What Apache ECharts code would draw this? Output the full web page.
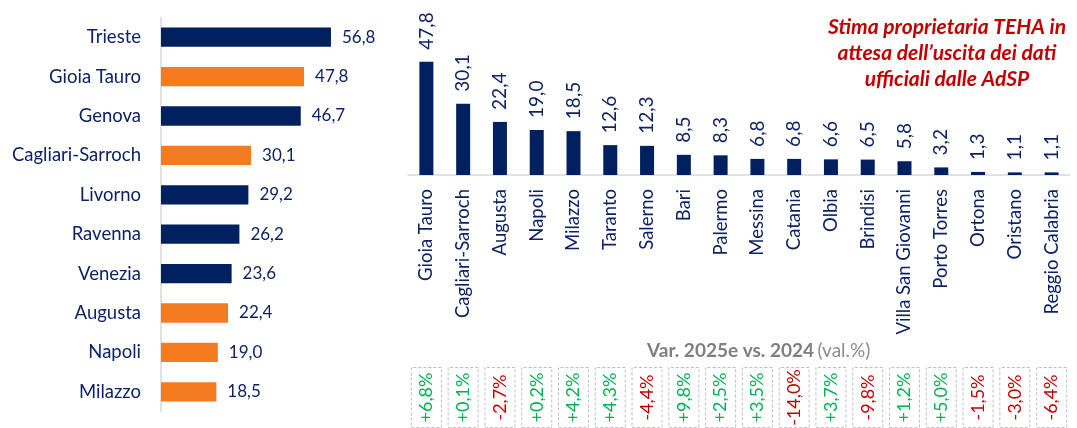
<!DOCTYPE html>
<html>
<head>
<meta charset="utf-8">
<script src="https://cdn.jsdelivr.net/npm/echarts@6/dist/echarts.min.js"></script>
<style>
  html, body { margin: 0; padding: 0; background: #fff; }
  #chart { width: 1077px; height: 428px; }
</style>
</head>
<body>
<div id="chart"></div>
<script>
// top 10 ports (left)
var topPorts = ["Trieste", "Gioia Tauro", "Genova", "Cagliari-Sarroch", "Livorno", "Ravenna", "Venezia", "Augusta", "Napoli", "Milazzo"];
var topValues = [56.8, 47.8, 46.7, 30.1, 29.2, 26.2, 23.6, 22.4, 19.0, 18.5];

// southern ports (right)
var southPorts = ["Gioia Tauro", "Cagliari-Sarroch", "Augusta", "Napoli", "Milazzo", "Taranto", "Salerno", "Bari", "Palermo", "Messina", "Catania", "Olbia", "Brindisi", "Villa San Giovanni", "Porto Torres", "Ortona", "Oristano", "Reggio Calabria"];
var southValues = [47.8, 30.1, 22.4, 19.0, 18.5, 12.6, 12.3, 8.5, 8.3, 6.8, 6.8, 6.6, 6.5, 5.8, 3.2, 1.3, 1.1, 1.1];
// Var. 2025e vs. 2024 (%)
var southVar = [6.8, 0.1, -2.7, 0.2, 4.2, 4.3, -4.4, 9.8, 2.5, 3.5, -14.0, 3.7, -9.8, 1.2, 5.0, -1.5, -3.0, -6.4];

var NAVY = "#002060";
var ORANGE = "#f47b20";
var TXT = "#0d2366";
var FONT = "'Source Sans Pro', Lato, sans-serif";

function fmt(v) {
  return v.toFixed(1).replace(".", ",");
}

var chart = echarts.init(document.getElementById("chart"));

var option = {
  animation: false,
  textStyle: { fontFamily: FONT },
  grid: [
    { left: 161, top: 17.5, width: 239.4, height: 394 },
    { left: 408, top: 32.8, width: 662, height: 142.2 },
    { left: 408, top: 367, width: 662, height: 62 },
  ],
  xAxis: [
    {
      gridIndex: 0,
      type: "value",
      min: 0,
      max: 80,
      show: false,
    },
    {
      gridIndex: 1,
      type: "category",
      data: southPorts,
      axisTick: { show: false },
      axisLine: { lineStyle: { color: "#d9d9d9", width: 1.5 } },
      axisLabel: {
        rotate: 90,
        margin: 14,
        color: TXT,
        fontSize: 18.5,
        fontFamily: FONT,
        interval: 0,
      },
    },
    {
      gridIndex: 2,
      type: "category",
      data: southPorts,
      show: false,
    },
  ],
  yAxis: [
    {
      gridIndex: 0,
      type: "category",
      data: topPorts,
      inverse: true,
      axisTick: { show: false },
      axisLine: { lineStyle: { color: "#d9d9d9", width: 1.5 } },
      axisLabel: { margin: 20, color: TXT, fontSize: 18.5, fontFamily: FONT },
    },
    {
      gridIndex: 1,
      type: "value",
      min: 0,
      max: 60,
      show: false,
    },
    {
      gridIndex: 2,
      type: "value",
      min: 0,
      max: 1,
      show: false,
    },
  ],
  series: [
    {
      type: "bar",
      xAxisIndex: 0,
      yAxisIndex: 0,
      barWidth: "49%",
      data: topValues.map(function (v, i) {
        return {
          value: v,
          itemStyle: { color: southPorts.indexOf(topPorts[i]) >= 0 ? ORANGE : NAVY },
        };
      }),
      label: {
        show: true,
        position: "right",
        distance: 11,
        color: TXT,
        fontSize: 17,
        fontFamily: FONT,
        formatter: function (p) {
          return fmt(p.value);
        },
      },
    },
    {
      type: "bar",
      xAxisIndex: 1,
      yAxisIndex: 1,
      barWidth: 14,
      data: southValues,
      itemStyle: { color: NAVY },
      label: {
        show: true,
        position: "top",
        rotate: 90,
        align: "left",
        verticalAlign: "middle",
        distance: 12,
        color: TXT,
        fontSize: 19,
        fontFamily: FONT,
        formatter: function (p) {
          return fmt(p.value);
        },
      },
    },
    {
      type: "bar",
      xAxisIndex: 2,
      yAxisIndex: 2,
      barWidth: 31,
      data: southVar.map(function (v) {
        return {
          value: 1,
          label: { color: v < 0 ? "#c00000" : "#00b050" },
        };
      }),
      itemStyle: {
        color: "transparent",
        borderColor: "#bfbfbf",
        borderWidth: 1,
        borderType: [3, 2],
      },
      label: {
        show: true,
        position: "inside",
        rotate: 90,
        fontSize: 18,
        fontFamily: FONT,
        formatter: function (p) {
          var v = southVar[p.dataIndex];
          return (v > 0 ? "+" : "") + fmt(v) + "%";
        },
      },
    },
  ],
  graphic: [
    {
      type: "text",
      left: 647,
      top: 341,
      style: {
        text: "{b|Var. 2025e vs. 2024} {n|(val.%)}",
        rich: {
          b: { fontWeight: "bold", fontSize: 19, fill: "#7f7f7f", fontFamily: FONT },
          n: { fontSize: 19, fill: "#8c8c8c", fontFamily: FONT },
        },
      },
    },
    {
      type: "text",
      x: 947,
      y: 14,
      style: {
        text: "Stima proprietaria TEHA in\nattesa dell\u2019uscita dei dati\nufficiali dalle AdSP",
        textAlign: "center",
        fontSize: 21,
        fontWeight: "bold",
        fontStyle: "italic",
        lineHeight: 26,
        fill: "#c00000",
        fontFamily: FONT,
      },
    },
  ],
};

chart.setOption(option);
</script>
</body>
</html>
